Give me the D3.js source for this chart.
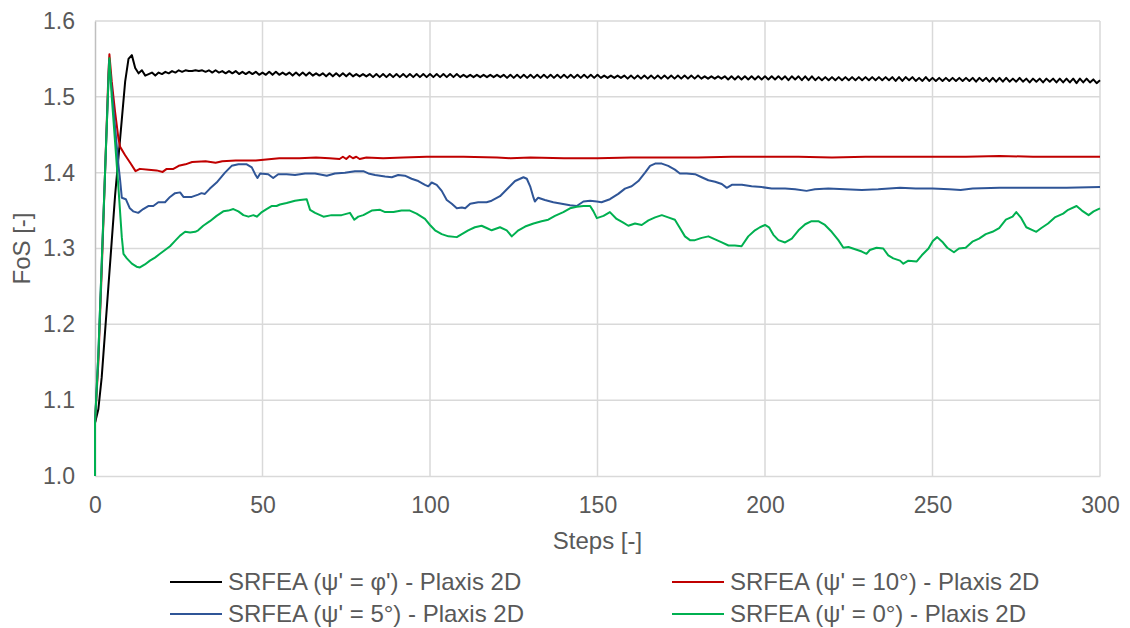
<!DOCTYPE html>
<html>
<head>
<meta charset="utf-8">
<script src="https://cdn.jsdelivr.net/npm/d3@7"></script>
<style>
  body { margin: 0; background: #fff; }
  svg { font-family: "Liberation Sans", Arial, sans-serif; }
</style>
</head>
<body>
<svg id="chart" width="1130" height="628"></svg>
<script>
// FoS per step for psi' = phi' (index = step)
const blackFoS = [
  1.070,1.088,1.130,1.190,1.250,1.310,1.370,1.420,1.470,1.520,
  1.550,1.555,1.538,1.531,1.535,1.528,1.530,1.532,1.528,1.532,
  1.530,1.533,1.531,1.534,1.532,1.535,1.533,1.535,1.534,1.534,
  1.535,1.534,1.535,1.533,1.535,1.532,1.535,1.532,1.534,1.531,
  1.534,1.531,1.534,1.530,1.533,1.530,1.533,1.530,1.533,1.529,
  1.532,1.529,1.533,1.529,1.533,1.529,1.532,1.529,1.532,1.528,
  1.532,1.528,1.532,1.528,1.532,1.528,1.531,1.528,1.531,1.527,
  1.531,1.527,1.531,1.527,1.531,1.527,1.531,1.527,1.530,1.527,
  1.530,1.527,1.530,1.526,1.530,1.526,1.530,1.526,1.530,1.526,
  1.530,1.526,1.530,1.526,1.530,1.526,1.530,1.526,1.530,1.526,
  1.530,1.526,1.530,1.526,1.530,1.526,1.530,1.526,1.530,1.526,
  1.529,1.526,1.529,1.526,1.529,1.526,1.529,1.526,1.529,1.526,
  1.529,1.526,1.529,1.525,1.529,1.525,1.529,1.525,1.529,1.525,
  1.529,1.525,1.529,1.525,1.529,1.525,1.529,1.525,1.529,1.525,
  1.529,1.525,1.529,1.525,1.529,1.525,1.529,1.525,1.529,1.525,
  1.529,1.525,1.528,1.525,1.528,1.525,1.528,1.525,1.528,1.524,
  1.528,1.524,1.528,1.524,1.528,1.524,1.528,1.524,1.528,1.524,
  1.528,1.524,1.528,1.524,1.528,1.524,1.528,1.524,1.528,1.524,
  1.528,1.524,1.527,1.524,1.527,1.524,1.527,1.524,1.527,1.523,
  1.527,1.523,1.527,1.523,1.527,1.523,1.527,1.523,1.527,1.523,
  1.527,1.523,1.527,1.523,1.527,1.523,1.527,1.522,1.527,1.523,
  1.527,1.522,1.527,1.522,1.527,1.522,1.526,1.522,1.526,1.522,
  1.526,1.522,1.526,1.522,1.526,1.522,1.526,1.522,1.526,1.522,
  1.526,1.522,1.526,1.522,1.526,1.522,1.526,1.522,1.526,1.521,
  1.526,1.521,1.526,1.522,1.526,1.521,1.525,1.521,1.526,1.521,
  1.525,1.521,1.525,1.521,1.525,1.521,1.525,1.521,1.525,1.521,
  1.525,1.521,1.525,1.520,1.525,1.521,1.525,1.520,1.525,1.520,
  1.525,1.520,1.525,1.520,1.524,1.520,1.525,1.520,1.524,1.519,
  1.524,1.520,1.524,1.519,1.524,1.520,1.524,1.519,1.524,1.519,
  1.524,1.519,1.524,1.518,1.524,1.519,1.524,1.519,1.523,1.518,
  1.522
];

// [step, FoS]
const redFoS = [
  [0,1.0],[0,1.07],[1,1.15],[2,1.27],[3,1.40],[4,1.53],[4.3,1.556],[5,1.52],[6,1.48],
  [7,1.445],[7.5,1.434],[9,1.423],[10.5,1.413],[12.1,1.402],[13.4,1.405],[16,1.404],
  [18.4,1.403],[20.2,1.401],[21.4,1.405],[23.4,1.405],[25,1.409],[27,1.411],[29,1.414],
  [33,1.415],[36,1.413],[38,1.415],[42,1.416],[48,1.416],[55,1.419],[61,1.419],[66,1.420],
  [70,1.419],[73,1.418],[74,1.421],[75,1.418],[76,1.422],[77,1.419],[78,1.421],[79,1.418],
  [81,1.420],[86,1.419],[92,1.420],[99,1.421],[110,1.421],[120,1.420],[124,1.419],[130,1.420],
  [140,1.419],[150,1.419],[160,1.420],[170,1.420],[180,1.420],[190,1.421],[200,1.421],
  [210,1.421],[220,1.420],[230,1.421],[240,1.421],[250,1.421],[260,1.421],[270,1.422],
  [280,1.421],[290,1.421],[300,1.421]
];

const blueFoS = [
  [0,1.0],[0,1.07],[1,1.16],[2,1.28],[3,1.40],[4,1.52],[4.2,1.548],[5,1.51],[6,1.46],
  [7,1.41],[7.5,1.390],[8,1.367],[9.2,1.365],[10.4,1.353],[11.4,1.349],[12.9,1.347],
  [14.4,1.352],[15.9,1.356],[17.4,1.356],[18.9,1.361],[20.9,1.361],[22.4,1.368],[23.9,1.373],
  [25.4,1.374],[26.4,1.368],[28.9,1.368],[30.8,1.371],[31.8,1.373],[32.8,1.372],[34.3,1.379],
  [36.3,1.387],[38.8,1.400],[40.8,1.409],[42.8,1.411],[45.3,1.411],[46.8,1.407],[47.8,1.398],
  [48.5,1.393],[49.3,1.399],[51.7,1.398],[53.2,1.393],[54.7,1.398],[57.2,1.398],[59.7,1.397],
  [62.7,1.399],[65.7,1.399],[69.2,1.396],[71.6,1.399],[74.6,1.400],[77.6,1.402],[80.1,1.402],
  [81.6,1.399],[83.6,1.397],[86.6,1.395],[88.6,1.394],[90.5,1.397],[92.5,1.396],[94.5,1.392],
  [96.5,1.389],[98.5,1.384],[99.5,1.382],[100.5,1.387],[102,1.384],[103.5,1.376],[105,1.364],
  [106.5,1.359],[108,1.353],[109.5,1.354],[110.5,1.353],[112,1.359],[114.4,1.361],[116.9,1.361],
  [118.4,1.363],[120.9,1.369],[123.4,1.380],[125.4,1.389],[127.9,1.394],[128.9,1.392],
  [129.9,1.382],[130.9,1.367],[131.3,1.362],[132.3,1.367],[134.3,1.364],[136.8,1.361],
  [139.3,1.359],[141.8,1.357],[143.8,1.356],[145.8,1.362],[147.8,1.363],[149.8,1.362],
  [151.2,1.361],[153.7,1.365],[156.2,1.372],[158.2,1.379],[160.2,1.382],[162.2,1.389],
  [164.2,1.400],[165.7,1.409],[167.2,1.412],[169.2,1.412],[171.1,1.409],[173.1,1.404],
  [174.6,1.399],[176.6,1.399],[179.1,1.398],[181.1,1.394],[183.1,1.390],[185.1,1.388],
  [187.1,1.385],[188.6,1.380],[190.1,1.384],[193.1,1.384],[196,1.382],[199,1.381],[202,1.379],
  [206,1.379],[209,1.378],[212.4,1.376],[214.9,1.378],[218.9,1.379],[223.9,1.378],[228.9,1.377],
  [233.8,1.378],[240.3,1.380],[245,1.379],[250,1.379],[255,1.378],[258.4,1.377],[262,1.379],
  [270,1.380],[280,1.380],[290,1.380],[300,1.381]
];

const greenFoS = [
  [0,1.0],[0,1.07],[1,1.16],[2,1.28],[3,1.40],[4,1.52],[4.3,1.551],[5,1.50],[6,1.44],
  [7,1.38],[8,1.315],[8.5,1.293],[9.5,1.287],[11,1.280],[12.4,1.276],[13.4,1.275],
  [14.9,1.279],[16.4,1.284],[17.9,1.288],[19.4,1.293],[20.9,1.298],[22.4,1.303],[23.9,1.310],
  [25.4,1.317],[26.9,1.322],[28.4,1.321],[29.9,1.322],[30.8,1.324],[32.3,1.330],[34.3,1.336],
  [36.3,1.343],[38.3,1.349],[39.8,1.350],[41.3,1.352],[42.8,1.349],[44.3,1.344],[45.8,1.342],
  [47.3,1.344],[48.3,1.342],[49.8,1.348],[51.2,1.352],[52.7,1.356],[54.2,1.356],[55.2,1.358],
  [57.2,1.360],[59.7,1.363],[61.2,1.364],[63.2,1.365],[64.2,1.351],[65.7,1.347],[68.2,1.342],
  [70.6,1.344],[73.6,1.344],[76.1,1.347],[77.4,1.338],[78.6,1.342],[80.1,1.344],[82.6,1.350],
  [85.1,1.351],[86.6,1.348],[89.1,1.348],[91.5,1.350],[94,1.350],[96,1.346],[98.5,1.339],
  [100,1.331],[101.5,1.324],[103.5,1.319],[105.5,1.316],[108,1.315],[109.5,1.319],[111.4,1.324],
  [113.4,1.328],[115.4,1.330],[116.9,1.327],[118.4,1.324],[120.9,1.328],[122.9,1.324],
  [124.4,1.316],[126.4,1.324],[128.4,1.329],[130.9,1.333],[133.3,1.336],[135.3,1.338],
  [137.3,1.343],[139.8,1.348],[141.8,1.353],[143.8,1.355],[145.8,1.356],[147.8,1.356],
  [148.8,1.349],[149.8,1.340],[151.8,1.343],[153.7,1.348],[155.7,1.339],[157.7,1.334],
  [159.2,1.330],[161.2,1.333],[163.2,1.331],[165.2,1.337],[167.2,1.341],[169.2,1.344],
  [171.1,1.341],[173.1,1.338],[174.6,1.327],[176.1,1.316],[177.6,1.311],[179.1,1.311],
  [181.1,1.314],[183.1,1.316],[185.1,1.312],[187.1,1.308],[189.1,1.304],[191,1.304],[193,1.303],
  [195,1.316],[197,1.324],[198.5,1.328],[200,1.331],[201.2,1.328],[202.5,1.318],[204,1.311],
  [206,1.308],[208,1.313],[210,1.324],[212,1.332],[213.9,1.336],[215.9,1.336],[217.9,1.331],
  [219.9,1.322],[221.9,1.311],[223.4,1.301],[224.9,1.302],[226.9,1.299],[228.9,1.296],
  [230.3,1.293],[231.3,1.298],[233.3,1.301],[235.3,1.300],[236.8,1.291],[238.3,1.287],
  [240.3,1.284],[241.3,1.280],[242.8,1.284],[245.3,1.283],[246.8,1.291],[248.8,1.300],
  [250.1,1.310],[251.4,1.315],[252.9,1.309],[254.4,1.301],[256.4,1.295],[257.9,1.300],
  [259.9,1.301],[261.9,1.309],[263.9,1.313],[265.9,1.319],[267.9,1.322],[269.9,1.327],
  [271.9,1.338],[273.9,1.342],[275,1.348],[276.5,1.340],[278,1.328],[280,1.324],[281,1.322],
  [282.5,1.327],[284.5,1.333],[286.5,1.341],[289,1.346],[290.5,1.351],[293,1.356],[294.6,1.350],
  [296.6,1.344],[298.1,1.349],[300,1.353]
];

const xTicks = [0, 50, 100, 150, 200, 250, 300];
const yTicks = [1.0, 1.1, 1.2, 1.3, 1.4, 1.5, 1.6];
const seriesNames = [
  "SRFEA (\u03C8' = \u03C6') - Plaxis 2D",
  "SRFEA (\u03C8' = 10\u00B0) - Plaxis 2D",
  "SRFEA (\u03C8' = 5\u00B0) - Plaxis 2D",
  "SRFEA (\u03C8' = 0\u00B0) - Plaxis 2D"
];
const seriesColors = ["#000000", "#c00000", "#2f5597", "#00b050"];

const svg = d3.select('#chart');
const margin = { left: 95, right: 30, top: 21, bottom: 152 };
const width = +svg.attr('width');
const height = +svg.attr('height');
const textColor = '#595959';

const x = d3.scaleLinear().domain([0, 300]).range([margin.left, width - margin.right]);
const y = d3.scaleLinear().domain([1.0, 1.6]).range([height - margin.bottom, margin.top]);

// gridlines
svg.append('g')
  .selectAll('line.h')
  .data(yTicks.slice(1))
  .enter().append('line')
  .attr('x1', x(0)).attr('x2', x(300))
  .attr('y1', d => y(d)).attr('y2', d => y(d))
  .attr('stroke', '#d9d9d9').attr('stroke-width', 1.5);

svg.append('g')
  .selectAll('line.v')
  .data(xTicks.slice(1))
  .enter().append('line')
  .attr('x1', d => x(d)).attr('x2', d => x(d))
  .attr('y1', y(1.0)).attr('y2', y(1.6))
  .attr('stroke', '#d9d9d9').attr('stroke-width', 1.5);

// axes
const xAxis = svg.append('g')
  .attr('transform', `translate(0,${y(1.0)})`)
  .call(d3.axisBottom(x).tickValues(xTicks).tickSize(0).tickPadding(21).tickFormat(d3.format('d')));
const yAxis = svg.append('g')
  .attr('transform', `translate(${x(0)},0)`)
  .call(d3.axisLeft(y).tickValues(yTicks).tickSize(0).tickPadding(20).tickFormat(d3.format('.1f')));

xAxis.select('.domain').attr('stroke', '#d9d9d9').attr('stroke-width', 1.5);
yAxis.select('.domain').attr('stroke', '#bfbfbf').attr('stroke-width', 1.5);
svg.selectAll('.tick text')
  .attr('fill', textColor)
  .style('font-size', '23px')
  .style('font-family', '"Liberation Sans", Arial, sans-serif');

svg.append('text')
  .attr('x', x(150)).attr('y', 549)
  .attr('text-anchor', 'middle')
  .attr('fill', textColor)
  .style('font-size', '24px')
  .text('Steps [-]');

svg.append('text')
  .attr('transform', `translate(30,${y(1.3)}) rotate(-90)`)
  .attr('text-anchor', 'middle')
  .attr('fill', textColor)
  .style('font-size', '24px')
  .text('FoS [-]');

// lines
const line = d3.line()
  .x(d => x(d[0]))
  .y(d => y(d[1]));

const blackPts = blackFoS.map((v, i) => [i, v]);
const allSeries = [blackPts, redFoS, blueFoS, greenFoS];

svg.append('g')
  .selectAll('path')
  .data(allSeries)
  .enter().append('path')
  .attr('d', line)
  .attr('fill', 'none')
  .attr('stroke', (d, i) => seriesColors[i])
  .attr('stroke-width', 2)
  .attr('stroke-linejoin', 'round');

// legend, two columns
const legendPos = [[170, 582], [672, 582], [170, 614], [672, 614]];
const legend = svg.append('g')
  .selectAll('g')
  .data(seriesNames)
  .enter().append('g')
  .attr('transform', (d, i) => `translate(${legendPos[i][0]},${legendPos[i][1]})`);

legend.append('line')
  .attr('x1', 0).attr('x2', 52)
  .attr('stroke', (d, i) => seriesColors[i])
  .attr('stroke-width', 2);

legend.append('text')
  .attr('x', 58).attr('y', 8)
  .attr('fill', textColor)
  .style('font-size', '24px')
  .text(d => d);
</script>
</body>
</html>
